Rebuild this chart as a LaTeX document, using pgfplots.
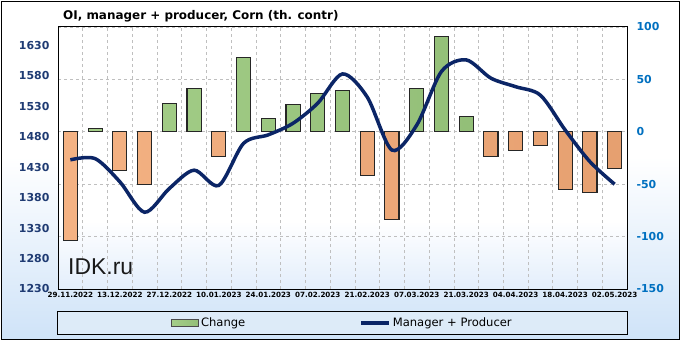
\documentclass[border=0pt]{standalone}
\usepackage{pgfplots}
\pgfplotsset{compat=1.18}
\usepackage{fontspec}
\setmainfont{DejaVu Sans}
\newfontfamily\arialfont{Liberation Sans}
\definecolor{navyline}{HTML}{0B2566}
\definecolor{lefttick}{HTML}{1F3B73}
\definecolor{righttick}{HTML}{0070C0}
\definecolor{posl}{HTML}{A4CE88}
\definecolor{posm}{HTML}{C8E6B2}
\definecolor{posr}{HTML}{93BF78}
\definecolor{negl}{HTML}{F4B283}
\definecolor{negm}{HTML}{FBD0AE}
\definecolor{negr}{HTML}{E6A070}
\definecolor{bgblue}{HTML}{CFE3F8}
\definecolor{plotblue}{HTML}{E3EEFB}
\definecolor{legfill}{HTML}{DDEBF8}
\definecolor{gridgray}{HTML}{BFBFBF}
\pgfdeclareverticalshading{outerbg}{100bp}{color(0bp)=(bgblue); color(25bp)=(bgblue); color(52bp)=(white); color(100bp)=(white)}
\pgfdeclareverticalshading{plotbg}{100bp}{color(0bp)=(plotblue); color(25bp)=(plotblue); color(38bp)=(white); color(100bp)=(white)}
\begin{document}
\begin{tikzpicture}[x=1bp,y=1bp]
\fill[white] (0,0) rectangle (681,341);
\path[shading=outerbg, draw=black, line width=1.2bp] (1.5,1.5) rectangle (679.5,339.5);
\begin{axis}[
  at={(58bp,52bp)}, anchor=south west,
  scale only axis, width=569bp, height=262bp,
  xmin=-0.5, xmax=22.5, ymin=-150, ymax=100,
  xtick={0,2,...,22},
  xticklabels={29.11.2022,13.12.2022,27.12.2022,10.01.2023,24.01.2023,07.02.2023,21.02.2023,07.03.2023,21.03.2023,04.04.2023,18.04.2023,02.05.2023},
  minor xtick={-0.5,0.5,...,22.5},
  ytick={-150,-100,-50,0,50,100},
  yticklabels={-150,-100,-50,0,50,100},
  yticklabel pos=right,
  major tick length=0, minor tick length=0,
  ymajorgrids, xminorgrids,
  grid style={gridgray, dash pattern=on 3bp off 3bp, line width=0.6bp},
  minor grid style={gridgray, dash pattern=on 3bp off 3bp, line width=0.6bp},
  axis line style={black, line width=1bp},
  axis background/.style={shading=plotbg},
  xticklabel style={font=\fontsize{7.2}{8}\selectfont\bfseries, black},
  yticklabel style={font=\fontsize{11}{13}\selectfont\bfseries, righttick, xshift=6bp},
  ybar, bar width=0.57,
]
\addplot[left color=posl, middle color=posm, right color=posr, draw=black!85, line width=1.1bp, bar shift=0pt] coordinates {(1,3) (4,27) (5,41) (7,71) (8,12.7) (9,25.7) (10,36.5) (11,39) (14,41) (15,91) (16,15)};
\addplot[left color=negl, middle color=negm, right color=negr, draw=black!85, line width=1.1bp, bar shift=0pt] coordinates {(0,-104) (2,-36.5) (3,-50) (6,-23.5) (12,-41.6) (13,-83.5) (17,-23.5) (18,-18) (19,-13) (20,-55) (21,-58) (22,-35)};
\end{axis}
\begin{axis}[
  at={(58bp,52bp)}, anchor=south west,
  scale only axis, width=569bp, height=262bp,
  xmin=-0.5, xmax=22.5, ymin=1230, ymax=1660,
  axis x line=none, axis y line*=left,
  axis line style={draw=none},
  ytick={1230,1280,1330,1380,1430,1480,1530,1580,1630},
  yticklabels={1230,1280,1330,1380,1430,1480,1530,1580,1630},
  major tick length=0,
  yticklabel style={font=\fontsize{11}{13}\selectfont\bfseries, lefttick, xshift=-5bp},
  legend style={at={(0.5,-0.084)}, anchor=north, legend columns=2, draw=black, line width=1bp, fill=legfill,
    font=\fontsize{11.6}{13}\selectfont, inner xsep=114bp, inner ysep=4.5bp,
    /tikz/every even column/.append style={column sep=112bp}},
]
\addlegendimage{legend image code/.code={\draw[left color=posl, middle color=posm, right color=posr, draw=black!70, line width=0.8bp] (0bp,-3.5bp) rectangle (27bp,3.5bp);}}
\addlegendentry{Change}
\addplot[navyline, line width=3.5bp, smooth, tension=0.5, no markers,
  legend image code/.code={\draw[navyline, line width=3.5bp] (0bp,0bp) -- (28bp,0bp);}]
  coordinates {(0,1442) (1,1444) (2,1406) (3,1356) (4,1395) (5,1425) (6,1400) (7,1469) (8,1483) (9,1502) (10,1535) (11,1583) (12,1545) (13,1458) (14,1499) (15,1587) (16,1606) (17,1576) (18,1562) (19,1548) (20,1491) (21,1439) (22,1402)};
\addlegendentry{Manager + Producer}
\end{axis}
\node[anchor=base west, inner sep=0, font=\fontsize{12}{14}\selectfont\bfseries] at (63,322) {OI, manager + producer, Corn (th. contr)};
\node[anchor=base west, inner sep=0, font=\arialfont\fontsize{23}{26}\selectfont, black!90] at (68,67) {IDK.ru};
\end{tikzpicture}
\end{document}
